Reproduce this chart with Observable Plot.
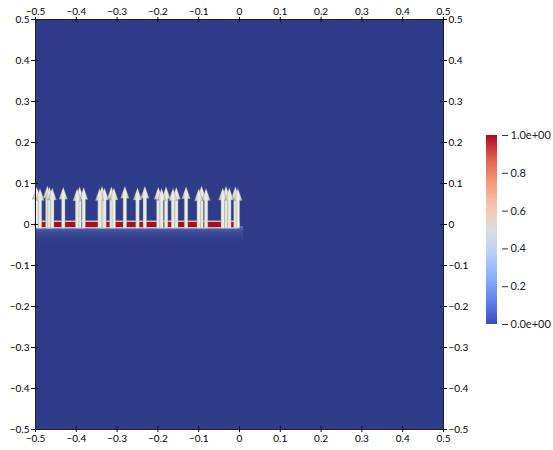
<!DOCTYPE html>
<html>
<head>
<meta charset="utf-8">
<script src="https://cdn.jsdelivr.net/npm/d3@7"></script>
<script src="https://cdn.jsdelivr.net/npm/@observablehq/plot@0.6"></script>
<style>
  html, body { margin: 0; padding: 0; background: #ffffff; }
  #wrap { position: relative; width: 553px; height: 450px; overflow: hidden; }
  #wrap > * { position: absolute; }
</style>
</head>
<body>
<div id="wrap"></div>
<script>
// ---------------- data ----------------
const xTicks = [-0.5, -0.4, -0.3, -0.2, -0.1, 0, 0.1, 0.2, 0.3, 0.4, 0.5];
const yTicks = [-0.5, -0.4, -0.3, -0.2, -0.1, 0, 0.1, 0.2, 0.3, 0.4, 0.5];

// source strip (value = 1) along y = 0
const stripX = [-0.5, 0];
const stripY = [-0.009, 0.007];
const stripValue = 1;

// velocity glyphs: x position and magnitude (all pointing +y)
const arrowX = [-0.497, -0.489, -0.471, -0.466, -0.459, -0.432, -0.398, -0.392, -0.382,
                -0.343, -0.337, -0.331, -0.314, -0.308, -0.281, -0.250, -0.232, -0.199,
                -0.191, -0.180, -0.163, -0.155, -0.131, -0.100, -0.093, -0.082, -0.041,
                -0.033, -0.025, -0.010, -0.004];
const arrowLen = [0.100, 0.097, 0.103, 0.100, 0.098, 0.100, 0.096, 0.101, 0.099,
                  0.097, 0.102, 0.098, 0.101, 0.098, 0.102, 0.098, 0.102, 0.100,
                  0.097, 0.101, 0.097, 0.100, 0.101, 0.096, 0.103, 0.097, 0.098,
                  0.102, 0.098, 0.101, 0.097];

// colour bar
const barTicks = [0, 0.2, 0.4, 0.6, 0.8, 1.0];
const barLabels = ["0.0e+00", "0.2", "0.4", "0.6", "0.8", "1.0e+00"];
// "Cool to Warm" control points
const cmapStops = [0, 0.125, 0.25, 0.375, 0.5, 0.625, 0.75, 0.875, 1];
const cmapColors = ["rgb(59,76,192)", "rgb(98,130,234)", "rgb(141,176,254)", "rgb(184,208,249)",
                    "rgb(221,221,221)", "rgb(245,196,173)", "rgb(244,154,123)", "rgb(222,96,77)",
                    "rgb(180,4,38)"];

// ---------------- layout ----------------
const W = 553, H = 450;
const mL = 35, mR = 110, mT = 19, mB = 21;
const plotH = H - mT - mB, plotW = W - mL - mR;
const FONT = "Lato, 'DejaVu Sans', sans-serif";

const arrows = arrowX.map((x, i) => ({x, len: arrowLen[i]}));

// arrow glyph drawn upward from its anchor; length from the r scale
const arrowSymbol = {
  draw(ctx, size) {
    const L = Math.sqrt(size / Math.PI);
    const hw = 4.3, sw = 1.8, hl = 12;
    ctx.moveTo(-sw, 0);
    ctx.lineTo(-sw, -(L - hl));
    ctx.lineTo(-hw, -(L - hl));
    ctx.lineTo(0, -L);
    ctx.lineTo(hw, -(L - hl));
    ctx.lineTo(sw, -(L - hl));
    ctx.lineTo(sw, 0);
    ctx.closePath();
  }
};

const fmt = d => d3.format("")(+d.toFixed(1));

const main = Plot.plot({
  width: W, height: H,
  marginLeft: mL, marginRight: mR, marginTop: mT, marginBottom: mB,
  style: {fontFamily: FONT, fontSize: "10px", color: "#000", background: "transparent", overflow: "visible"},
  x: {domain: [-0.5, 0.5]},
  y: {domain: [-0.5, 0.5]},
  r: {type: "linear", domain: [0, 0.1], range: [0, plotH * 0.1]},
  marks: [
    Plot.frame({fill: "#2f3c8a", stroke: null}),
    // faint diffusion just under the source
    Plot.rect([0], {x1: stripX[0], x2: stripX[1] + 0.01, y1: stripY[0] - 0.04, y2: stripY[0] + 0.004, fill: "url(#glow)"}),
    // source strip
    Plot.rect([stripValue], {x1: stripX[0], x2: stripX[1], y1: stripY[0], y2: stripY[1],
      fill: "#a80d20", stroke: "#cdbdb8", strokeWidth: 1.5, rx: 3}),
    // glyphs
    Plot.dot(arrows, {x: "x", y: () => stripY[0], r: "len", symbol: arrowSymbol,
      fill: "url(#arrowGrad)", stroke: "#8e8e88", strokeWidth: 0.4, strokeOpacity: 0.8}),
    Plot.frame({stroke: "#222", strokeWidth: 1}),
    // inward tick marks
    Plot.ruleX(xTicks, {x: d => d, insetBottom: plotH - 3, stroke: "#111"}),
    Plot.ruleX(xTicks, {x: d => d, insetTop: plotH - 3, stroke: "#111"}),
    Plot.ruleY(yTicks, {y: d => d, insetRight: plotW - 3, stroke: "#111"}),
    Plot.ruleY(yTicks, {y: d => d, insetLeft: plotW - 3, stroke: "#111"}),
    // axes on all four sides
    Plot.axisX({anchor: "top", ticks: xTicks, tickSize: 3, tickPadding: 2, tickFormat: fmt, label: null, stroke: "#111"}),
    Plot.axisX({anchor: "bottom", ticks: xTicks, tickSize: 3, tickPadding: 2, tickFormat: fmt, label: null, stroke: "#111"}),
    Plot.axisY({anchor: "left", ticks: yTicks, tickSize: 4, tickPadding: 2, tickFormat: fmt, label: null, stroke: "#111"}),
    Plot.axisY({anchor: "right", ticks: yTicks, tickSize: 3, tickPadding: 2, tickFormat: fmt, label: null, stroke: "#111"})
  ]
});

// gradients used by the glyphs / glow
const defs = d3.select(main).insert("defs", ":first-child");
const ag = defs.append("linearGradient").attr("id", "arrowGrad").attr("x1", 0).attr("x2", 1).attr("y1", 0).attr("y2", 0);
[[0, "#a3a39b"], [0.35, "#e3e3dc"], [0.6, "#efefe9"], [1, "#b2b2aa"]].forEach(([o, c]) =>
  ag.append("stop").attr("offset", o).attr("stop-color", c));
const gg = defs.append("linearGradient").attr("id", "glow").attr("x1", 0).attr("x2", 0).attr("y1", 0).attr("y2", 1);
[[0, "rgba(120,150,230,0.6)"], [0.3, "rgba(90,115,200,0.35)"], [1, "rgba(47,61,139,0)"]].forEach(([o, c]) =>
  gg.append("stop").attr("offset", o).attr("stop-color", c));

main.style.left = "0px";
main.style.top = "0px";
document.getElementById("wrap").appendChild(main);

// ---------------- colour bar ----------------
const barW = 11, barH = 189;
const bmT = 6, bmB = 6, bmR = 56;
const ramp = d3.range(0, 1, 1 / barH);
const bar = Plot.plot({
  width: barW + bmR, height: barH + bmT + bmB,
  marginLeft: 0, marginRight: bmR, marginTop: bmT, marginBottom: bmB,
  style: {fontFamily: FONT, fontSize: "11px", color: "#222", background: "transparent", overflow: "visible"},
  x: {domain: [0, 1], axis: null},
  y: {domain: [0, 1]},
  color: {type: "linear", domain: cmapStops, range: cmapColors, interpolate: "rgb"},
  marks: [
    Plot.rect(ramp, {x1: 0, x2: 1, y1: d => d, y2: d => Math.min(1, d + 1.6 / barH), fill: d => d + 0.5 / barH, shapeRendering: "crispEdges"}),
    Plot.axisY({anchor: "right", ticks: barTicks, tickSize: 6, tickPadding: 3, dx: 4,
      tickFormat: d => barLabels[barTicks.indexOf(+d.toFixed(1))], label: null, stroke: "#333"})
  ]
});
bar.style.left = "486px";
bar.style.top = (135 - bmT) + "px";
document.getElementById("wrap").appendChild(bar);
</script>
</body>
</html>
